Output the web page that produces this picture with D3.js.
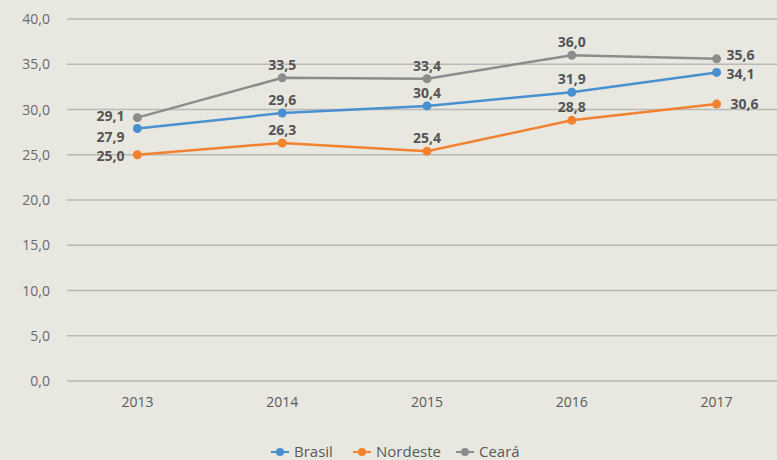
<!DOCTYPE html>
<html><head><meta charset="utf-8">
<script src="https://cdn.jsdelivr.net/npm/d3@7"></script>
<style>
body{margin:0;background:#e8e8e1;}
svg{display:block;font-family:"Open Sans","DejaVu Sans",sans-serif;}
</style></head><body>
<svg id="c" width="777" height="460"></svg>
<script>
const years = ["2013","2014","2015","2016","2017"];
const brasil = [27.9, 29.6, 30.4, 31.9, 34.1];
const nordeste = [25.0, 26.3, 25.4, 28.8, 30.6];
const ceara = [29.1, 33.5, 33.4, 36.0, 35.6];
const yTicks = [0,5,10,15,20,25,30,35,40];
const seriesNames = ["Brasil","Nordeste","Ceará"];
const colors = ["#4a90d0","#f28230","#8c8c8c"];

const svg = d3.select("#c");
const W = 777, H = 460;
svg.append("rect").attr("width",W).attr("height",H).attr("fill","#e8e8e1");
const x = d3.scaleBand().domain(years).range([65,789]);
const cx = d => x(d) + x.bandwidth()/2;
const y = d3.scaleLinear().domain([0,40]).range([381,19]);
const fmt = v => v.toFixed(1).replace(".",",");

// grid
const g = svg.append("g");
g.selectAll("line.grid").data(yTicks).join("line")
  .attr("x1",67).attr("x2",W).attr("y1",d=>y(d)).attr("y2",d=>y(d))
  .attr("stroke","#b9b9b6").attr("stroke-width",1.3);
g.selectAll("text.yl").data(yTicks).join("text")
  .attr("x",50).attr("y",d=>y(d)+5).attr("text-anchor","end")
  .attr("font-size",14).attr("fill","#6a6a6a").text(d=>fmt(d));
g.selectAll("text.xl").data(years).join("text")
  .attr("x",d=>cx(d)).attr("y",407).attr("text-anchor","middle")
  .attr("font-size",14).attr("fill","#5a5a5a").text(d=>d);

const data = [brasil, nordeste, ceara];
const line = d3.line().x((d,i)=>cx(years[i])).y(d=>y(d));
// draw order: Ceara, Nordeste, Brasil
[2,1,0].forEach(k=>{
  svg.append("path").attr("d",line(data[k])).attr("fill","none")
    .attr("stroke",colors[k]).attr("stroke-width",2.5);
  svg.selectAll(null).data(data[k]).join("circle")
    .attr("cx",(d,i)=>cx(years[i])).attr("cy",d=>y(d)).attr("r",4.5)
    .attr("fill",colors[k]);
});

// labels
const labelG = svg.append("g").attr("font-size",14).attr("font-weight","bold").attr("fill","#555");
data.forEach((s,k)=>{
  s.forEach((v,i)=>{
    let tx = cx(years[i]), ty = y(v), anchor="middle";
    if(i===0){
      anchor="end"; tx -= 13;
      if(k===0) ty += 13; else if(k===1) ty += 6; else ty += 3;
    } else if(i===4){
      anchor="start"; tx += 10;
      if(k===2) ty += 1; else if(k===0) ty += 7; else ty += 5;
      if(k===1) tx += 4;
    } else {
      ty -= 8;
    }
    labelG.append("text").attr("x",tx).attr("y",ty).attr("text-anchor",anchor).text(fmt(v));
  });
});

// legend
const lg = svg.append("g").attr("font-size",15).attr("fill","#5a5a5a");
const legX = [271, 353, 456];
seriesNames.forEach((n,k)=>{
  const gx = legX[k];
  lg.append("line").attr("x1",gx).attr("x2",gx+18).attr("y1",452).attr("y2",452)
    .attr("stroke",colors[k]).attr("stroke-width",2);
  lg.append("circle").attr("cx",gx+9).attr("cy",452).attr("r",4).attr("fill",colors[k]);
  lg.append("text").attr("x",gx+23).attr("y",457).text(n);
});
</script>
</body></html>
